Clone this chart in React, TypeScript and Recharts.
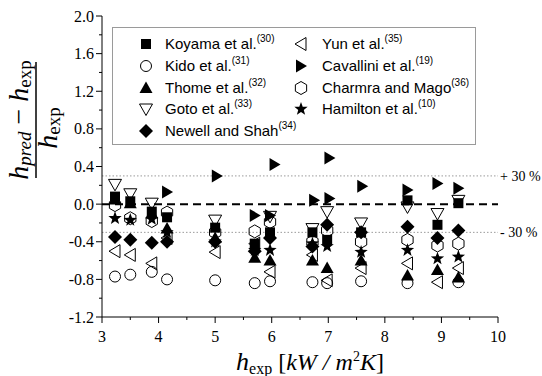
import React from 'react';
import { ScatterChart, Scatter, XAxis, YAxis, ReferenceLine, Legend } from 'recharts';

const serif = '"Liberation Serif", "Times New Roman", serif';
const sans = '"Liberation Sans", Arial, sans-serif';

// [h_exp, (h_pred - h_exp)/h_exp]
const koyama = [[3.23, 0.08], [3.5, 0.03], [3.88, -0.08], [4.15, -0.14], [5.0, -0.25], [5.7, -0.42], [5.97, -0.3], [6.72, -0.3], [6.98, -0.38], [7.58, -0.3], [8.4, 0.04], [8.93, -0.22], [9.3, 0.01]];
const kido = [[3.23, -0.77], [3.5, -0.75], [3.88, -0.72], [4.15, -0.8], [5.0, -0.81], [5.7, -0.84], [5.97, -0.82], [6.72, -0.83], [6.98, -0.84], [7.58, -0.82], [8.4, -0.84], [9.3, -0.83]];
const thome = [[3.23, 0.05], [3.5, 0.01], [3.88, -0.1], [4.15, -0.26], [5.0, -0.36], [5.7, -0.57], [5.97, -0.6], [6.72, -0.6], [6.98, -0.68], [7.58, -0.6], [8.4, -0.76], [8.93, -0.7], [9.3, -0.78]];
const goto = [[3.23, 0.21], [3.5, 0.11], [3.88, 0.01], [5.0, -0.17], [5.97, -0.13], [6.72, -0.26], [6.98, -0.08], [7.58, -0.2], [8.4, -0.03], [8.93, -0.1], [9.3, 0.04]];
const newell = [[3.23, -0.35], [3.5, -0.38], [3.88, -0.41], [4.15, -0.4], [5.0, -0.4], [5.7, -0.5], [5.97, -0.36], [6.72, -0.45], [6.98, -0.22], [7.58, -0.3], [8.4, -0.24], [8.93, -0.36], [9.3, -0.28]];
const yun = [[3.23, -0.5], [3.5, -0.54], [3.88, -0.63], [4.15, -0.36], [5.0, -0.51], [5.7, -0.42], [5.97, -0.72], [6.72, -0.54], [6.98, -0.81], [7.58, -0.68], [8.4, -0.63], [8.93, -0.83], [9.3, -0.68]];
const cavallini = [[4.15, 0.13], [5.03, 0.3], [5.7, -0.12], [5.97, -0.12], [6.05, 0.42], [6.75, 0.04], [7.02, 0.06], [7.02, 0.49], [7.6, 0.19], [8.4, 0.15], [8.93, 0.22], [9.3, 0.17]];
const charmra = [[3.23, -0.01], [3.5, -0.15], [3.88, -0.18], [4.15, -0.09], [5.0, -0.3], [5.7, -0.29], [5.97, -0.19], [6.72, -0.4], [6.98, -0.28], [7.58, -0.4], [8.4, -0.38], [8.93, -0.44], [9.3, -0.42]];
const hamilton = [[3.23, -0.15], [3.5, -0.17], [3.88, -0.16], [4.15, -0.3], [5.0, -0.4], [5.7, -0.49], [5.97, -0.49], [6.72, -0.42], [6.98, -0.45], [7.58, -0.51], [8.4, -0.49], [8.93, -0.58], [9.3, -0.56]];

const xTicks = [3, 3.5, 4, 4.5, 5, 5.5, 6, 6.5, 7, 7.5, 8, 8.5, 9, 9.5, 10];
const yTicks = [-1.2, -1.0, -0.8, -0.6, -0.4, -0.2, 0, 0.2, 0.4, 0.6, 0.8, 1.0, 1.2, 1.4, 1.6, 1.8, 2.0];

const series = [
  { name: 'Koyama et al.', ref: '(30)', kind: 'square', data: koyama },
  { name: 'Kido et al.', ref: '(31)', kind: 'circle', data: kido },
  { name: 'Thome et al.', ref: '(32)', kind: 'up', data: thome },
  { name: 'Goto et al.', ref: '(33)', kind: 'down', data: goto },
  { name: 'Newell and Shah', ref: '(34)', kind: 'diamond', data: newell },
  { name: 'Yun et al.', ref: '(35)', kind: 'left', data: yun },
  { name: 'Cavallini et al.', ref: '(19)', kind: 'right', data: cavallini },
  { name: 'Charmra and Mago', ref: '(36)', kind: 'hexagon', data: charmra },
  { name: 'Hamilton et al.', ref: '(10)', kind: 'star', data: hamilton },
];

function Marker({ kind, cx, cy }: { kind: string; cx: number; cy: number }) {
  const pts = (a: number[][]) => a.map(([dx, dy]) => `${cx + dx},${cy + dy}`).join(' ');
  const open = { fill: 'none', stroke: '#000', strokeWidth: 1 };
  switch (kind) {
    case 'square':
      return <rect x={cx - 5} y={cy - 5} width={10} height={10} fill="#000" />;
    case 'circle':
      return <circle cx={cx} cy={cy} r={5.5} {...open} />;
    case 'up':
      return <polygon points={pts([[0, -6.5], [6.5, 5], [-6.5, 5]])} fill="#000" />;
    case 'down':
      return <polygon points={pts([[0, 6.5], [6.5, -5], [-6.5, -5]])} {...open} />;
    case 'left':
      return <polygon points={pts([[-6, 0], [5, -6.5], [5, 6.5]])} {...open} />;
    case 'right':
      return <polygon points={pts([[6, 0], [-5, -6.5], [-5, 6.5]])} fill="#000" />;
    case 'diamond':
      return <polygon points={pts([[0, -7], [7, 0], [0, 7], [-7, 0]])} fill="#000" />;
    case 'hexagon': {
      const a = [-90, -30, 30, 90, 150, 210].map((d) => [6.5 * Math.cos((d * Math.PI) / 180), 6.5 * Math.sin((d * Math.PI) / 180)]);
      return <polygon points={pts(a)} {...open} />;
    }
    case 'star': {
      const a = Array.from({ length: 10 }, (_, i) => {
        const r = i % 2 ? 2.9 : 7;
        const t = ((-90 + i * 36) * Math.PI) / 180;
        return [r * Math.cos(t), r * Math.sin(t)];
      });
      return <polygon points={pts(a)} fill="#000" />;
    }
    default:
      return null;
  }
}

const BottomTick = (p: any) => {
  const v = p.payload.value;
  const major = Number.isInteger(v);
  return (
    <g>
      <line x1={p.x} x2={p.x} y1={p.y} y2={p.y + (major ? 6 : 3)} stroke="#000" />
      {major && (
        <text x={p.x} y={p.y + 25} textAnchor="middle" fontSize={16} fontFamily={serif} fill="#000">
          {v}
        </text>
      )}
    </g>
  );
};

const TopTick = (p: any) => {
  const major = Number.isInteger(p.payload.value);
  return <line x1={p.x} x2={p.x} y1={p.y} y2={p.y + (major ? 6 : 3)} stroke="#000" />;
};

const isMajorY = (v: number) => Math.round(v * 10) % 4 === 0;

const LeftTick = (p: any) => {
  const v = p.payload.value;
  const major = isMajorY(v);
  return (
    <g>
      <line x1={p.x} x2={p.x - (major ? 6 : 3)} y1={p.y} y2={p.y} stroke="#000" />
      {major && (
        <text x={p.x - 8} y={p.y + 5.5} textAnchor="end" fontSize={16} fontFamily={serif} fill="#000">
          {v.toFixed(1)}
        </text>
      )}
    </g>
  );
};

const RightTick = (p: any) => {
  const major = isMajorY(p.payload.value);
  return <line x1={p.x} x2={p.x - (major ? 6 : 3)} y1={p.y} y2={p.y} stroke="#000" />;
};

const YLabel = () => (
  <g transform="rotate(-90, 36, 120)" fontFamily={serif} fill="#000">
    <text x={36} y={112} textAnchor="middle">
      <tspan fontSize={28} fontStyle="italic">h</tspan>
      <tspan fontSize={19} fontStyle="italic" dy={3}>pred</tspan>
      <tspan fontSize={28} dy={-3}>{' \u2212 '}</tspan>
      <tspan fontSize={28} fontStyle="italic">h</tspan>
      <tspan fontSize={19} dy={3}>exp</tspan>
    </text>
    <line x1={-22} x2={94} y1={120} y2={120} stroke="#000" strokeWidth={1.5} />
    <text x={28} y={141} textAnchor="middle">
      <tspan fontSize={28} fontStyle="italic">h</tspan>
      <tspan fontSize={19} dy={3}>exp</tspan>
    </text>
  </g>
);

const XLabel = () => (
  <text x={310} y={370} textAnchor="middle" fontFamily={serif} fill="#000">
    <tspan fontSize={26} fontStyle="italic">h</tspan>
    <tspan fontSize={16} dy={4}>exp</tspan>
    <tspan fontSize={24} dy={-4}>{'  ['}</tspan>
    <tspan fontSize={24} fontStyle="italic">{'kW / m'}</tspan>
    <tspan fontSize={14} dy={-9}>2</tspan>
    <tspan fontSize={24} fontStyle="italic" dy={9}>K</tspan>
    <tspan fontSize={24}>]</tspan>
  </text>
);

const rowY = [16, 38, 60, 81, 103];

const LegendBox = () => (
  <div
    style={{
      position: 'relative',
      width: 364,
      height: 118,
      border: '1px solid #9a9a9a',
      boxSizing: 'border-box',
      background: '#fff',
      fontFamily: sans,
      fontSize: 15,
      color: '#000',
    }}
  >
    {series.map((s, i) => {
      const col = i < 5 ? 0 : 1;
      const y = rowY[col ? i - 5 : i];
      const mx = col ? 188 : 33;
      const tx = col ? 209 : 52;
      return (
        <React.Fragment key={s.name}>
          <svg width={18} height={18} style={{ position: 'absolute', left: mx - 9, top: y - 9 }}>
            <Marker kind={s.kind} cx={9} cy={9} />
          </svg>
          <span style={{ position: 'absolute', left: tx, top: y - 10, lineHeight: '20px', whiteSpace: 'nowrap' }}>
            {s.name}
            <span style={{ fontSize: 10, position: 'relative', top: -7 }}>{s.ref}</span>
          </span>
        </React.Fragment>
      );
    })}
  </div>
);

export default function App() {
  return (
    <div style={{ position: 'absolute', left: 0, top: 0, width: 542, height: 376, background: '#fff' }}>
      <ScatterChart width={542} height={376} margin={{ top: 16, right: 44, bottom: 0, left: 0 }}>
        <XAxis
          xAxisId="bottom"
          type="number"
          dataKey="x"
          domain={[3, 10]}
          ticks={xTicks}
          interval={0}
          tick={BottomTick}
          tickSize={0}
          tickMargin={0}
          tickLine={false}
          axisLine={{ stroke: '#000' }}
          height={59}
          label={XLabel}
        />
        <XAxis
          xAxisId="top"
          orientation="top"
          type="number"
          dataKey="x"
          domain={[3, 10]}
          ticks={xTicks}
          interval={0}
          tick={TopTick}
          tickSize={0}
          tickMargin={0}
          tickLine={false}
          axisLine={{ stroke: '#000' }}
          height={0}
        />
        <YAxis
          yAxisId="left"
          type="number"
          dataKey="y"
          domain={[-1.2, 2.0]}
          ticks={yTicks}
          interval={0}
          tick={LeftTick}
          tickSize={0}
          tickMargin={0}
          tickLine={false}
          axisLine={{ stroke: '#000' }}
          width={102}
          label={YLabel}
        />
        <YAxis
          yAxisId="right"
          orientation="right"
          type="number"
          dataKey="y"
          domain={[-1.2, 2.0]}
          ticks={yTicks}
          interval={0}
          tick={RightTick}
          tickSize={0}
          tickMargin={0}
          tickLine={false}
          axisLine={{ stroke: '#000' }}
          width={0}
        />
        <Legend
          layout="horizontal"
          verticalAlign="middle"
          align="center"
          content={LegendBox}
          wrapperStyle={{ left: 112, top: 27, width: 364, height: 118 }}
        />
        <ReferenceLine
          xAxisId="bottom"
          yAxisId="left"
          y={0.3}
          stroke="#9a9a9a"
          strokeDasharray="1.5 2"
          label={{ value: '+ 30 %', position: 'right', offset: 2, fill: '#000', fontSize: 14, fontFamily: serif }}
        />
        <ReferenceLine
          xAxisId="bottom"
          yAxisId="left"
          y={-0.3}
          stroke="#9a9a9a"
          strokeDasharray="1.5 2"
          label={{ value: '- 30 %', position: 'right', offset: 2, fill: '#000', fontSize: 14, fontFamily: serif }}
        />
        <ReferenceLine xAxisId="bottom" yAxisId="left" y={0} stroke="#000" strokeWidth={2} strokeDasharray="8 5" />
        {series.map((s) => (
          <Scatter
            key={s.name}
            name={s.name}
            xAxisId="bottom"
            yAxisId="left"
            data={s.data.map(([x, y]) => ({ x, y }))}
            isAnimationActive={false}
            shape={(p: any) => <Marker kind={s.kind} cx={p.cx} cy={p.cy} />}
          />
        ))}
      </ScatterChart>
    </div>
  );
}
